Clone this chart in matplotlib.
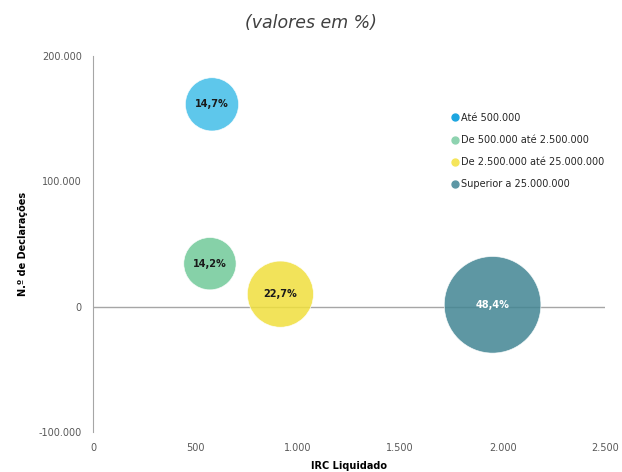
import matplotlib.pyplot as plt
from matplotlib.lines import Line2D
from matplotlib.ticker import FuncFormatter

# Escalões de IRC liquidado
escaloes = ["Até 500.000", "De 500.000 até 2.500.000",
            "De 2.500.000 até 25.000.000", "Superior a 25.000.000"]
irc_liquidado = [581, 571, 915, 1951]
n_declaracoes = [161400, 34300, 10000, 1500]
peso = [14.7, 14.2, 22.7, 48.4]  # valores em %

cores = ["#42BEE8", "#71C999", "#F0DF3D", "#428593"]
cor_texto = ["#1a1a1a", "#1a1a1a", "#1a1a1a", "white"]


def milhares(v, pos):
    return f"{v:,.0f}".replace(",", ".")


fig = plt.figure(figsize=(6.22, 4.72), dpi=100)
ax = fig.add_axes([0.1495, 0.0847, 0.8232, 0.7967])

ax.axhline(0, color="#a6a6a6", lw=1, zorder=1)
ax.scatter(irc_liquidado, n_declaracoes, s=[p * 100 for p in peso],
           c=cores, alpha=0.85, edgecolors="white", linewidths=0.5, zorder=2)

for x, y, p, ct in zip(irc_liquidado, n_declaracoes, peso, cor_texto):
    ax.text(x, y, f"{p:.1f}%".replace(".", ","), ha="center", va="center",
            fontsize=7, fontweight="bold", color=ct, zorder=3)

ax.set_xlim(0, 2500)
ax.set_ylim(-100000, 200000)
ax.set_xticks([0, 500, 1000, 1500, 2000, 2500])
ax.set_yticks([-100000, 0, 100000, 200000])
ax.xaxis.set_major_formatter(FuncFormatter(milhares))
ax.yaxis.set_major_formatter(FuncFormatter(milhares))
ax.tick_params(axis="both", length=0, labelsize=7, labelcolor="#595959")
ax.tick_params(axis="x", pad=8)
ax.tick_params(axis="y", pad=8)

for lado in ["top", "right", "bottom"]:
    ax.spines[lado].set_visible(False)
ax.spines["left"].set_color("#a6a6a6")

ax.set_xlabel("IRC Liquidado", fontsize=7, fontweight="bold", labelpad=6)
ax.set_ylabel("N.º de Declarações", fontsize=7, fontweight="bold", labelpad=8)

fig.text(0.5, 0.952, "(valores em %)", ha="center", va="center",
         fontsize=12.5, style="italic", color="#404040")

marcadores = [Line2D([], [], marker="o", ls="", color=c, markersize=5)
              for c in ["#1DA6E0", "#8ED3B0", "#F5E55A", "#5D97A5"]]
ax.legend(marcadores, escaloes, loc="upper left", bbox_to_anchor=(0.698, 0.849),
          frameon=False, fontsize=7, handletextpad=0.1, labelspacing=1.25,
          handlelength=1, borderaxespad=0, borderpad=0, labelcolor="#262626")

fig.savefig("out.png", dpi=100)
